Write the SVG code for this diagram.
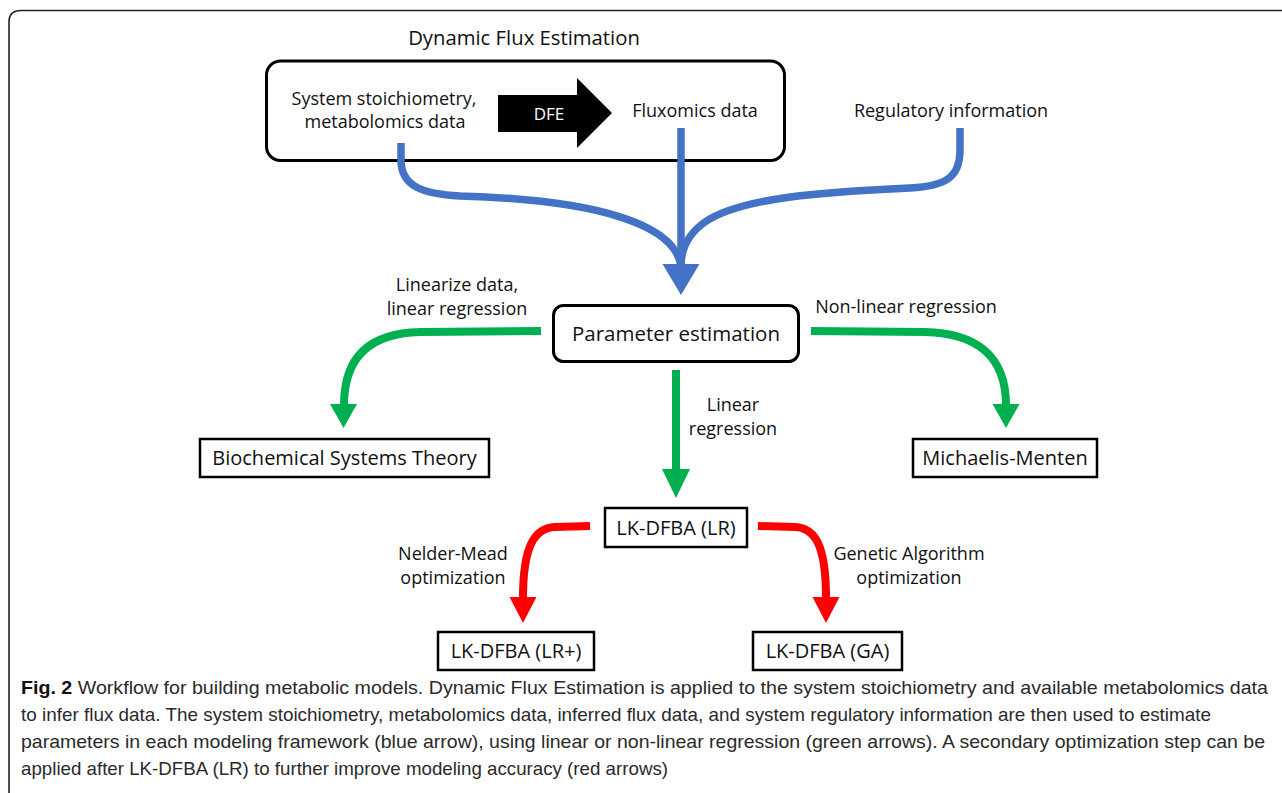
<svg xmlns="http://www.w3.org/2000/svg" width="1282" height="793" viewBox="0 0 1282 793">
<style>
.lbl{font-family:"Open Sans","Liberation Sans",sans-serif;font-size:18px;fill:#111;text-anchor:middle}
.box{font-family:"Open Sans","Liberation Sans",sans-serif;font-size:20px;fill:#111;text-anchor:middle}
.cap{font-family:"Liberation Sans Narrow","Liberation Sans",sans-serif;font-size:19px;fill:#2a2a2a}
.nb{fill:#fff;stroke:#000;stroke-width:2.5}
.blue{fill:none;stroke:#4472C4;stroke-width:7.5}
.green{fill:none;stroke:#00B050;stroke-width:8}
.red{fill:none;stroke:#FF0000;stroke-width:8}
</style>
<rect width="1282" height="793" fill="#fff"/>
<path d="M9,793 V22 Q9,10.5 21,10.5 H1282" fill="none" stroke="#222" stroke-width="1.6"/>

<g id="dfe-group">
  <text class="lbl" x="524" y="45" style="font-size:20.3px">Dynamic Flux Estimation</text>
  <rect x="266.5" y="61" width="518" height="99.5" rx="14" fill="#fff" stroke="#000" stroke-width="3"/>
  <text class="lbl" x="384" y="105">System stoichiometry,</text>
  <text class="lbl" x="385" y="128">metabolomics data</text>
  <polygon points="498,95 577,95 577,78 612,113 577,148 577,132 498,132" fill="#000"/>
  <text class="lbl" x="549" y="120" style="fill:#fff;font-size:17px">DFE</text>
  <text class="lbl" x="695" y="117">Fluxomics data</text>
</g>
<g id="regulatory">
  <text class="lbl" x="951" y="117">Regulatory information</text>
</g>

<g id="connectors">
  <path class="blue" d="M401,143 V160 C401,186 422,194 460,196 C600,200 675,225 681,266"/>
  <path class="blue" d="M960,128 V150 C960,178 945,186 910,188 C820,192 740,198 705,222 C688,234 681,248 681,266"/>
  <path class="blue" d="M681,128 V266"/>
  <polygon points="662.5,264 699.5,264 681,295" fill="#4472C4"/>

  <path class="green" d="M541,331 L420,332 C372,333 344,355 344,405"/>
  <polygon points="330,404 357,404 343.5,428" fill="#00B050"/>
  <path class="green" d="M811,331 L925,332 C975,333 1006,355 1006,405"/>
  <polygon points="992.5,404 1019.5,404 1006,428" fill="#00B050"/>
  <path class="green" d="M676,370 V471"/>
  <polygon points="662,469 690,469 676,498" fill="#00B050"/>

  <path class="red" d="M590,526 L555,527 C535,528 523,545 523,598"/>
  <polygon points="509.5,597 536.5,597 523,623" fill="#FF0000"/>
  <path class="red" d="M758,526 L795,527 C815,528 826,545 826,598"/>
  <polygon points="812.5,597 839.5,597 826,623" fill="#FF0000"/>
</g>

<g id="labels">
  <text class="lbl" x="457" y="291">Linearize data,</text>
  <text class="lbl" x="457" y="315">linear regression</text>
  <text class="lbl" x="906" y="313">Non-linear regression</text>
  <text class="lbl" x="733" y="411">Linear</text>
  <text class="lbl" x="733" y="435">regression</text>
  <text class="lbl" x="453" y="560">Nelder-Mead</text>
  <text class="lbl" x="453" y="584">optimization</text>
  <text class="lbl" x="909" y="560">Genetic Algorithm</text>
  <text class="lbl" x="909" y="584">optimization</text>
</g>

<g id="param">
  <rect x="553.5" y="305.5" width="245" height="56" rx="10" fill="#fff" stroke="#000" stroke-width="3"/>
  <text class="box" x="676" y="341" style="font-size:20.5px">Parameter estimation</text>
</g>
<g id="bst">
  <rect class="nb" x="200" y="439" width="289" height="38"/>
  <text class="box" x="344.5" y="465">Biochemical Systems Theory</text>
</g>
<g id="mm">
  <rect class="nb" x="913" y="439" width="184" height="38"/>
  <text class="box" x="1005" y="465">Michaelis-Menten</text>
</g>
<g id="lr">
  <rect class="nb" x="605" y="508" width="142" height="39"/>
  <text class="box" x="676" y="535">LK-DFBA (LR)</text>
</g>
<g id="lrplus">
  <rect class="nb" x="438" y="632" width="156" height="38"/>
  <text class="box" x="516" y="658">LK-DFBA (LR+)</text>
</g>
<g id="ga">
  <rect class="nb" x="753" y="632" width="149" height="38"/>
  <text class="box" x="827.5" y="658">LK-DFBA (GA)</text>
</g>

<g id="caption">
  <text class="cap" x="21" y="694" textLength="1247" lengthAdjust="spacingAndGlyphs"><tspan font-weight="bold" fill="#111">Fig. 2</tspan> Workflow for building metabolic models. Dynamic Flux Estimation is applied to the system stoichiometry and available metabolomics data</text>
  <text class="cap" x="21" y="721" textLength="1190" lengthAdjust="spacingAndGlyphs">to infer flux data. The system stoichiometry, metabolomics data, inferred flux data, and system regulatory information are then used to estimate</text>
  <text class="cap" x="21" y="748" textLength="1244" lengthAdjust="spacingAndGlyphs">parameters in each modeling framework (blue arrow), using linear or non-linear regression (green arrows). A secondary optimization step can be</text>
  <text class="cap" x="21" y="775" textLength="647" lengthAdjust="spacingAndGlyphs">applied after LK-DFBA (LR) to further improve modeling accuracy (red arrows)</text>
</g>
</svg>
